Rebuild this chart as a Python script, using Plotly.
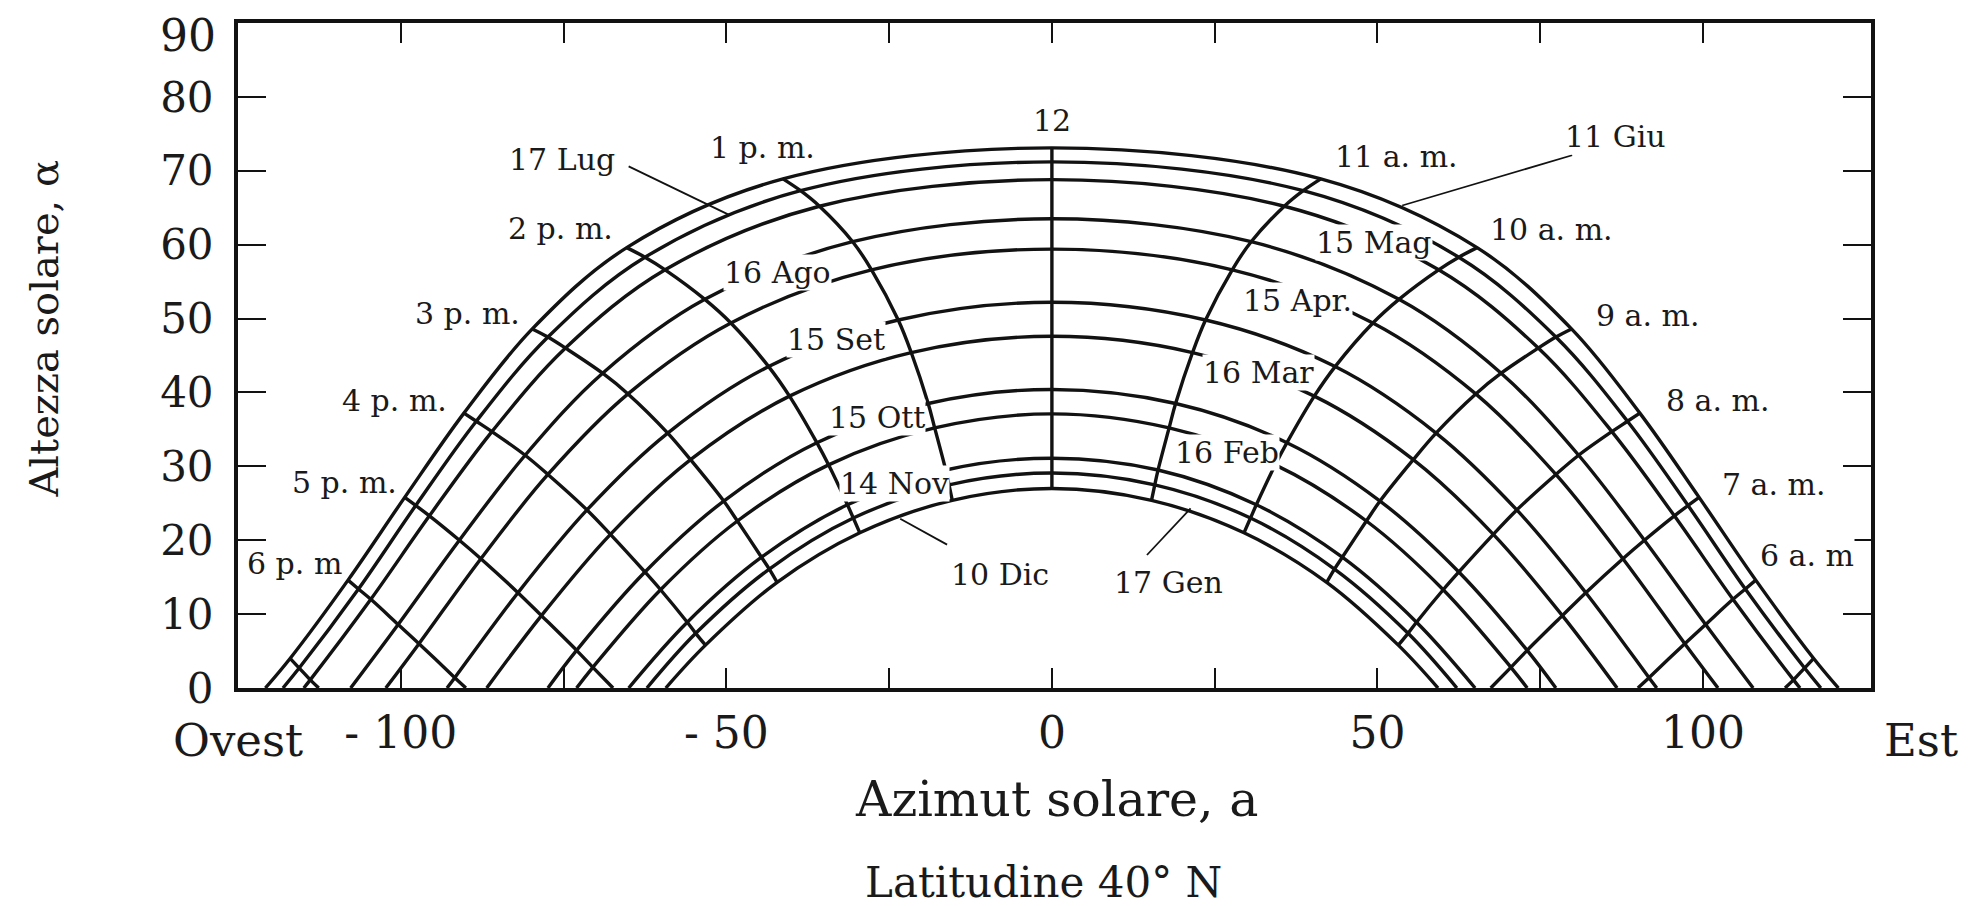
import plotly.graph_objects as go

# ---------------- data (latitude 40 N) ----------------
# Morning half of each day path: points at 12, 11, 10, 9, 8, 7, 6, 5 (solar time)
HOURS_AM = ["12", "11 a. m.", "10 a. m.", "9 a. m.", "8 a. m.", "7 a. m.", "6 a. m", "5"]
HOURS_PM = ["12", "1 p. m.", "2 p. m.", "3 p. m.", "4 p. m.", "5 p. m.", "6 p. m", "7"]

DATES = ["11 Giu", "17 Lug", "15 Mag", "16 Ago", "15 Apr.", "15 Set",
         "16 Mar", "15 Ott", "16 Feb", "14 Nov", "17 Gen", "10 Dic"]

AZ_GIU = [0, 41.3, 65.3, 79.8, 90.3, 99.4, 108.1, 117.0]
ALT_GIU = [73.1, 68.9, 59.6, 48.6, 37.2, 25.8, 14.6, 4.0]
AZ_LUG = [0, 38.6, 62.5, 77.4, 88.4, 97.7, 106.5, 115.6]
ALT_LUG = [71.2, 67.3, 58.3, 47.5, 36.1, 24.7, 13.4, 2.7]
AZ_MAG = [0, 35.7, 59.4, 74.7, 86.0, 95.6, 104.6, 113.9]
ALT_MAG = [68.8, 65.2, 56.6, 46.0, 34.7, 23.3, 12.0, 1.1]
AZ_AGO = [0, 30.6, 53.3, 69.0, 80.9, 91.0, 100.4, None]
ALT_AGO = [63.5, 60.4, 52.6, 42.6, 31.5, 20.0, 8.6, None]
AZ_APR = [0, 27.7, 49.3, 65.1, 77.4, 87.7, 97.2, None]
ALT_APR = [59.4, 56.6, 49.4, 39.8, 28.9, 17.5, 6.0, None]
AZ_SET = [0, 23.6, 43.5, 59.0, 71.4, 82.0, 91.7, None]
ALT_SET = [52.2, 49.8, 43.5, 34.5, 24.1, 12.9, 1.4, None]
AZ_MAR = [0, 21.6, 40.3, 55.5, 67.8, 78.4, None, None]
ALT_MAR = [47.6, 45.4, 39.5, 30.9, 20.8, 9.8, None, None]
AZ_OTT = [0, 19.0, 36.1, 50.4, 62.5, 73.0, None, None]
ALT_OTT = [40.4, 38.5, 33.2, 25.3, 15.7, 5.1, None, None]
AZ_FEB = [0, 18.0, 34.3, 48.3, 60.1, 70.5, None, None]
ALT_FEB = [37.1, 35.2, 30.2, 22.6, 13.3, 2.8, None, None]
AZ_NOV = [0, 16.3, 31.4, 44.6, 56.0, None, None, None]
ALT_NOV = [31.1, 29.5, 24.8, 17.7, 8.9, None, None, None]
AZ_GEN = [0, 15.8, 30.5, 43.4, 54.7, None, None, None]
ALT_GEN = [29.1, 27.5, 23.0, 16.1, 7.4, None, None, None]
AZ_DIC = [0, 15.3, 29.5, 42.2, 53.2, None, None, None]
ALT_DIC = [27.0, 25.4, 21.0, 14.3, 5.8, None, None, None]

# azimuth where each day path meets the horizon (sunrise, east side)
SUNRISE_AZ = [120.8, 118.1, 114.9, 107.7, 102.3, 92.9, 86.8, 77.4, 73.0, 65.0, 62.2, 59.3]
# azimuth where each hour line meets the horizon (None = ends on the 10 Dic path)
HOUR_HORIZON_AZ = [None, None, None, None, None, 67.4, 90.0, 112.6]

AZ_ALL = [AZ_GIU, AZ_LUG, AZ_MAG, AZ_AGO, AZ_APR, AZ_SET, AZ_MAR, AZ_OTT, AZ_FEB, AZ_NOV, AZ_GEN, AZ_DIC]
ALT_ALL = [ALT_GIU, ALT_LUG, ALT_MAG, ALT_AGO, ALT_APR, ALT_SET, ALT_MAR, ALT_OTT, ALT_FEB, ALT_NOV, ALT_GEN, ALT_DIC]

# label positions (azimuth, altitude)
HOUR_LABELS = ["12", "1 p. m.", "2 p. m.", "3 p. m.", "4 p. m.", "5 p. m.", "6 p. m",
               "11 a. m.", "10 a. m.", "9 a. m.", "8 a. m.", "7 a. m.", "6 a. m"]
HOUR_LABEL_X = [0, -44.4, -75.4, -89.7, -100.9, -108.7, -116.3, 53.0, 76.7, 91.6, 102.3, 110.9, 116.0]
HOUR_LABEL_Y = [76.8, 73.2, 62.2, 50.7, 38.9, 27.8, 16.9, 72.0, 62.0, 50.4, 38.9, 27.6, 18.0]

DATE_LABEL_X = [86.5, -75.2, 49.4, -42.1, 37.7, -33.1, 31.8, -26.9, 26.9, -24.1, 17.9, -8.0]
DATE_LABEL_Y = [74.6, 71.5, 60.3, 56.3, 52.5, 47.1, 42.7, 36.6, 31.9, 27.7, 14.3, 15.3]

# leader lines from label to path
LEADER_X0 = [79.9, -65.0, 14.6, -16.1]
LEADER_Y0 = [72.1, 70.6, 18.0, 19.4]
LEADER_X1 = [53.8, -49.5, 21.3, -23.3]
LEADER_Y1 = [65.3, 64.0, 24.3, 22.9]

X_TICKS = [-100, -75, -50, -25, 0, 25, 50, 75, 100]
X_TICK_TEXT = ["- 100", "", "- 50", "", "0", "", "50", "", "100"]
Y_TICKS = [0, 10, 20, 30, 40, 50, 60, 70, 80, 90]
Y_TICK_TEXT = ["0", "10", "20", "30", "40", "50", "60", "70", "80", ""]
Y_TOP_LABEL = "90"

# ---------------- figure ----------------
INK = "#121212"
TXT = "#1a1a1a"
FONT = "DejaVu Serif"
fig = go.Figure()


def add_line(xs, ys, width=3.4, shape="spline"):
    fig.add_trace(go.Scatter(x=xs, y=ys, mode="lines",
                             line=dict(color=INK, width=width, shape=shape, smoothing=1.0),
                             hoverinfo="skip", showlegend=False))


# day paths
for az, alt, sr in zip(AZ_ALL, ALT_ALL, SUNRISE_AZ):
    valid = [i for i, v in enumerate(alt) if v is not None]
    xs, ys = [-sr], [0]
    for i in reversed(valid[1:]):
        xs.append(-az[i]); ys.append(alt[i])
    for i in valid:
        xs.append(az[i]); ys.append(alt[i])
    xs.append(sr); ys.append(0)
    add_line(xs, ys)

# noon line
add_line([AZ_ALL[0][0], AZ_ALL[-1][0]], [ALT_ALL[0][0], ALT_ALL[-1][0]], shape="linear")

# hour lines, morning and afternoon
for k in range(1, len(HOURS_AM)):
    px, py = [], []
    for az, alt in zip(AZ_ALL, ALT_ALL):
        if alt[k] is not None:
            px.append(az[k]); py.append(alt[k])
    if HOUR_HORIZON_AZ[k] is not None:
        px.append(HOUR_HORIZON_AZ[k]); py.append(0)
    add_line(px, py)
    add_line([-v for v in px], py)

# leaders
for x0, y0, x1, y1 in zip(LEADER_X0, LEADER_Y0, LEADER_X1, LEADER_Y1):
    add_line([x0, x1], [y0, y1], width=1.8, shape="linear")

annots = []
lab_font = dict(family=FONT, size=30, color=TXT)
for t, x, y in zip(HOUR_LABELS, HOUR_LABEL_X, HOUR_LABEL_Y):
    annots.append(dict(x=x, y=y, xref="x", yref="y", text=t, showarrow=False,
                       font=lab_font, bgcolor="white", borderpad=0))
for t, x, y in zip(DATES, DATE_LABEL_X, DATE_LABEL_Y):
    annots.append(dict(x=x, y=y, xref="x", yref="y", text=t, showarrow=False,
                       font=lab_font, bgcolor="white", borderpad=0))

annots += [
    dict(x=-0.012, y=0.981, xref="paper", yref="paper", text=Y_TOP_LABEL,
         showarrow=False, font=dict(family=FONT, size=44, color=TXT),
         xanchor="right", yanchor="middle"),
    dict(x=0.501, y=-0.167, xref="paper", yref="paper", text="Azimut solare, a",
         showarrow=False, font=dict(family=FONT, size=49, color=TXT),
         xanchor="center", yanchor="middle"),
    dict(x=0.493, y=-0.293, xref="paper", yref="paper", text="Latitudine 40° N",
         showarrow=False, font=dict(family=FONT, size=42, color=TXT),
         xanchor="center", yanchor="middle"),
    dict(x=0.0, y=-0.079, xref="paper", yref="paper", text="Ovest",
         showarrow=False, font=dict(family=FONT, size=45, color=TXT),
         xanchor="center", yanchor="middle"),
    dict(x=1.0306, y=-0.079, xref="paper", yref="paper", text="Est",
         showarrow=False, font=dict(family=FONT, size=45, color=TXT),
         xanchor="center", yanchor="middle"),
    dict(x=-0.119, y=0.54, xref="paper", yref="paper", text="Altezza solare, α",
         showarrow=False, textangle=-90, font=dict(family=FONT, size=40, color=TXT),
         xanchor="center", yanchor="middle"),
]

fig.update_layout(
    width=1975, height=906, autosize=False,
    margin=dict(l=230, r=112, t=15, b=226),
    paper_bgcolor="white", plot_bgcolor="white",
    annotations=annots,
    xaxis=dict(range=[-125.0, 125.8], tickvals=X_TICKS, ticktext=X_TICK_TEXT,
               ticks="inside", ticklen=20, tickwidth=2, tickcolor=INK,
               showline=True, linewidth=4, linecolor=INK, mirror="ticks",
               showgrid=False, zeroline=False, ticklabelstandoff=3,
               tickfont=dict(family=FONT, size=44, color=TXT)),
    yaxis=dict(range=[0, 90], tickvals=Y_TICKS, ticktext=Y_TICK_TEXT,
               ticks="inside", ticklen=28,
               tickwidth=2, tickcolor=INK, showline=True, linewidth=4, linecolor=INK,
               mirror="ticks", showgrid=False, zeroline=False, ticklabelstandoff=12,
               tickfont=dict(family=FONT, size=42, color=TXT)),
)

fig.write_html("out.html")
